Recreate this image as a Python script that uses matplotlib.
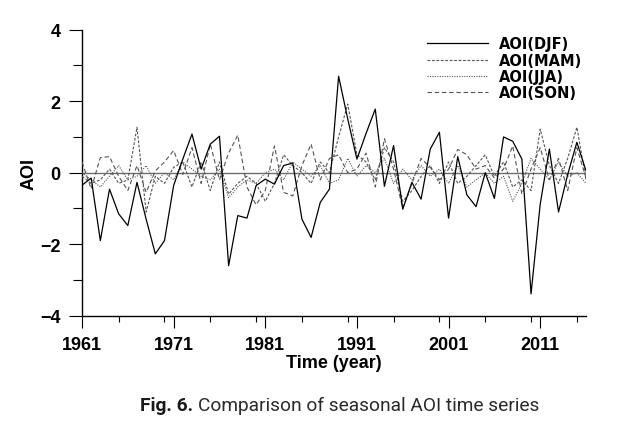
import matplotlib
matplotlib.use("Agg")
import numpy as np
import matplotlib.pyplot as plt
from matplotlib.ticker import MultipleLocator

years = np.arange(1961, 2017)

djf = [-0.35, -0.15, -1.90, -0.46, -1.15, -1.48, -0.27, -1.30, -2.27, -1.90,
       -0.36, 0.38, 1.08, 0.10, 0.80, 1.02, -2.60, -1.20, -1.27, -0.36,
       -0.18, -0.32, 0.20, 0.27, -1.30, -1.81, -0.83, -0.46, 2.70, 1.50,
       0.38, 1.10, 1.78, -0.38, 0.76, -1.02, -0.27, -0.74, 0.66, 1.13,
       -1.27, 0.45, -0.62, -0.95, 0.00, -0.72, 1.00, 0.88, 0.38, -3.39,
       -0.88, 0.66, -1.10, -0.05, 0.85, 0.05]
mam = [-0.10, -0.30, -0.20, 0.10, -0.30, -0.20, 1.27, -1.10, -0.10, -0.30,
       0.15, 0.30, -0.40, 0.30, -0.50, 0.30, -0.60, -0.30, -0.10, -0.30,
       -0.80, -0.30, 0.50, 0.20, 0.00, -0.30, 0.30, 0.00, 1.00, 1.92,
       0.50, 0.30, -0.20, 0.70, 0.30, -0.80, -0.50, -0.10, 0.20, -0.30,
       0.30, -0.30, -0.10, 0.20, 0.50, -0.10, 0.30, -0.40, -0.20, -0.50,
       1.22, 0.20, -0.30, 0.40, 1.27, -0.20]
jja = [0.00, -0.20, -0.40, -0.10, 0.20, -0.20, -0.10, 0.20, -0.30, 0.00,
       -0.20, 0.30, 0.10, -0.10, -0.20, 0.10, -0.70, -0.40, -0.20, -0.30,
       0.00, 0.10, -0.20, 0.30, 0.10, -0.10, 0.20, -0.30, -0.20, 0.40,
       -0.10, 0.20, 0.00, 0.40, -0.30, 0.10, -0.20, 0.20, -0.10, 0.10,
       -0.30, 0.20, -0.40, -0.20, 0.00, -0.30, -0.10, -0.80, -0.30, 0.40,
       0.10, -0.20, 0.30, -0.10, 0.00, -0.30]
son = [0.30, -0.45, 0.42, 0.45, -0.10, -0.50, 0.20, -0.55, 0.05, 0.30,
       0.62, -0.05, 0.70, -0.30, 0.80, -0.20, 0.55, 1.05, -0.40, -0.90,
       -0.50, 0.75, -0.55, -0.65, 0.20, 0.80, -0.20, 0.40, 0.50, 0.00,
       0.10, 0.55, -0.40, 0.95, 0.10, -1.00, -0.30, 0.40, 0.15, -0.20,
       0.10, 0.65, 0.50, 0.10, 0.20, -0.15, 0.10, 0.75, -0.60, 0.10,
       0.70, -0.20, 0.40, -0.50, 0.70, -0.15]

xticks = [1961, 1971, 1981, 1991, 2001, 2011]
yticks = [-4, -2, 0, 2, 4]

plt.rcParams['font.family'] = ['Liberation Sans', 'DejaVu Sans']

fig = plt.figure(figsize=(6.17, 4.31), dpi=100)
ax = fig.add_axes([0.1329, 0.2652, 0.8169, 0.6636])

ax.axhline(0, color="#6e6e6e", lw=1.0, zorder=1)
ax.plot(years, djf, color="black", lw=0.9, ls="-", label="AOI(DJF)", zorder=4)
ax.plot(years, mam, color="#555555", lw=0.8, ls=(0, (2.5, 1.5)), label="AOI(MAM)", zorder=3)
ax.plot(years, jja, color="#555555", lw=0.8, ls=(0, (1, 1.2)), label="AOI(JJA)", zorder=3)
ax.plot(years, son, color="#555555", lw=0.8, ls=(0, (4, 2.5)), label="AOI(SON)", zorder=3)

ax.set_xlim(1961, 2016)
ax.set_ylim(-4, 4)
ax.set_xticks(xticks)
ax.xaxis.set_minor_locator(MultipleLocator(5))
ax.set_yticks(yticks)
ax.yaxis.set_minor_locator(MultipleLocator(1))
ax.tick_params(axis="x", which="major", length=8.5, width=0.8, direction="out", pad=6)
ax.tick_params(axis="x", which="minor", length=4, width=0.8, direction="out")
ax.tick_params(axis="y", which="major", length=9.5, width=0.8, direction="out", pad=6)
ax.tick_params(axis="y", which="minor", length=6.5, width=0.8, direction="out")
for lab in ax.get_xticklabels() + ax.get_yticklabels():
    lab.set_fontweight("bold")
    lab.set_fontsize(13)

for s in ["top", "right"]:
    ax.spines[s].set_visible(False)
for s in ["left", "bottom"]:
    ax.spines[s].set_linewidth(1.0)

ax.set_xlabel("Time (year)", fontsize=13, fontweight="bold", labelpad=1)
ax.set_ylabel("AOI", fontsize=13, fontweight="bold", labelpad=1.5)

leg = ax.legend(loc="upper left", bbox_to_anchor=(0.692, 0.913),
                bbox_transform=fig.transFigure, frameon=False,
                prop={"family": "DejaVu Sans", "weight": "bold", "size": 10.5},
                handlelength=4.2, handletextpad=0.7, labelspacing=0.08,
                borderpad=0, borderaxespad=0)

cap = ["Roboto", "DejaVu Sans"]
fig.text(0.313, 0.0464, "Fig. 6.", fontsize=13.8, ha="right", va="baseline",
         family=cap, fontweight="bold", color="#1a1a1a")
fig.text(0.321, 0.0464, "Comparison of seasonal AOI time series", fontsize=13.8,
         ha="left", va="baseline", family=cap, color="#2a2a2a")

fig.savefig("out.png", dpi=100)
plt.close(fig)
